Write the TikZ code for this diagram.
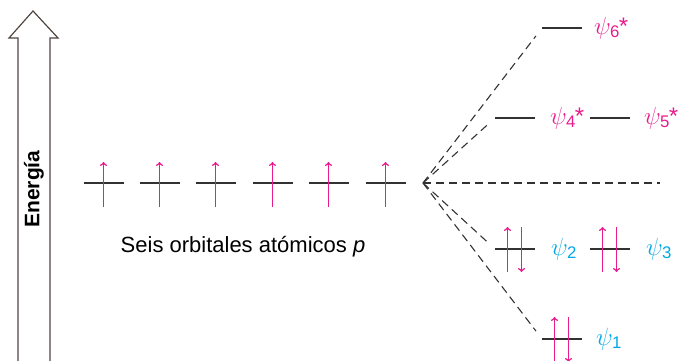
\documentclass[tikz,border=0pt]{standalone}
\usepackage{amsmath}
\usepackage{fontspec}
\setmainfont{Liberation Sans}
\usetikzlibrary{arrows,positioning,calc}
\definecolor{orbitalmagenta}{RGB}{232,28,140}
\definecolor{bondcyan}{RGB}{0,168,228}
\definecolor{levelgray}{RGB}{50,50,50}
\definecolor{arrowbrown}{RGB}{80,68,64}

\begin{document}
\begin{tikzpicture}[x=1pt,y=-1pt,
    level/.style={levelgray,line width=1.2pt},
    electron/.style={->,orbitalmagenta,line width=1.5pt},
    corr/.style={levelgray,line width=1.1pt,dash pattern=on 8pt off 5pt,shorten >=10pt},
    psilabel/.style={anchor=west,inner sep=0pt,font=\fontsize{24}{28}\selectfont}]
    \useasboundingbox (0,0) rectangle (678,361);

    % Energy arrow
    \draw[arrowbrown,line width=1.2pt] (18,361) -- (18,38) -- (9,38) -- (33,11) -- (58,38) -- (50,38) -- (50,361);
    \node[rotate=90,font=\bfseries\fontsize{21}{25}\selectfont] (energia) at (34,189) {Energía};

    % Six p atomic orbitals
    \foreach \i/\x in {1/103.5,2/159.5,3/215.5,4/272.5,5/328.5,6/385.5} {
        \coordinate (p\i) at (\x,183);
        \draw[level] ($(p\i)+(-20,0)$) -- ($(p\i)+(20,0)$);
        \draw[electron] ($(p\i)+(0,24)$) -- ($(p\i)+(0,-21)$);
    }
    \node[font=\fontsize{22}{26}\selectfont] (seis) at (243,247) {Seis orbitales atómicos \textit{p}};

    % Molecular orbital levels
    \coordinate (c) at (423,183);
    \coordinate (psi6) at (542,28);
    \coordinate (psi4) at (495,118);
    \coordinate (psi5) at (590,118);
    \coordinate (psi2) at (495,249);
    \coordinate (psi3) at (590,249);
    \coordinate (psi1) at (542,339);
    \coordinate (h) at (660,183);
    \foreach \n in {psi6,psi4,psi5,psi2,psi3,psi1}
        \draw[level] (\n) -- ++(40,0);

    % Paired electrons
    \foreach \n in {psi2,psi3,psi1} {
        \draw[electron] ($(\n)+(12.5,23)$) -- ($(\n)+(12.5,-22)$);
        \draw[electron] ($(\n)+(26.5,-22)$) -- ($(\n)+(26.5,23)$);
    }

    % Labels
    \node[psilabel,orbitalmagenta] (l6) at ($(psi6)+(52,0)$) {$\psi_{\text{6}}$\kern-1pt*};
    \node[psilabel,orbitalmagenta] (l4) at ($(psi4)+(55,0)$) {$\psi_{\text{4}}$\kern-1pt*};
    \node[psilabel,orbitalmagenta] (l5) at ($(psi5)+(54,0)$) {$\psi_{\text{5}}$\kern-1pt*};
    \node[psilabel,bondcyan] (l2) at ($(psi2)+(56,0)$) {$\psi_{\text{2}}$};
    \node[psilabel,bondcyan] (l3) at ($(psi3)+(56,0)$) {$\psi_{\text{3}}$};
    \node[psilabel,bondcyan] (l1) at ($(psi1)+(54,0)$) {$\psi_{\text{1}}$};

    % Correlation lines
    \foreach \n in {psi6,psi4,psi2,psi1}
        \draw[corr] (c) -- (\n);
    \draw[corr,shorten >=0pt] (c) -- (h);
\end{tikzpicture}
\end{document}
